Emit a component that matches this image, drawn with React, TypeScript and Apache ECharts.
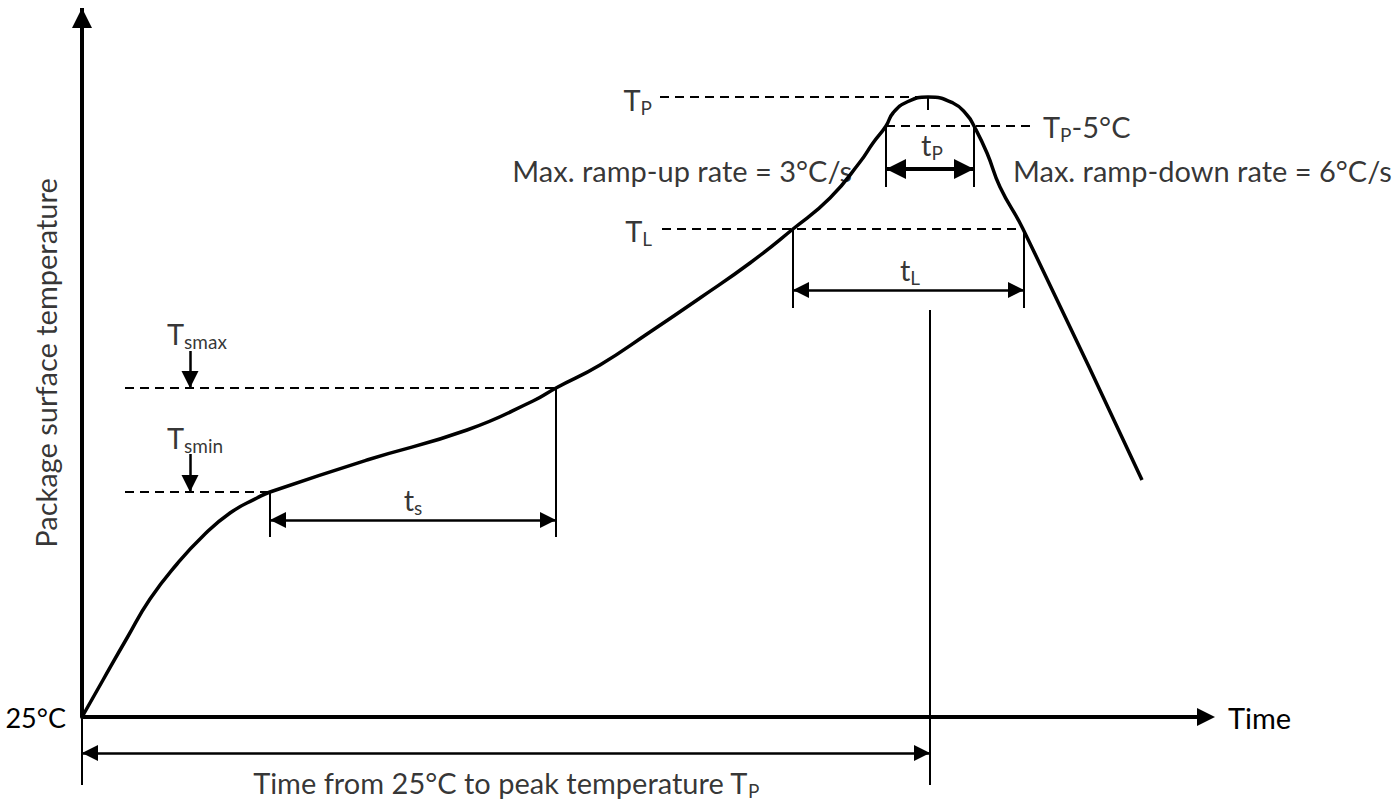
import React, { useEffect, useRef } from 'react';
import * as echarts from 'echarts';

const FONT = 'Lato';
const TEXT_SIZE = 29;
const SUB_SIZE = 19;

// Reflow profile (time units from 25°C start, temperature units above 25°C)
const profileTime = [0, 21, 45, 68, 95, 121, 148, 175, 188, 285, 385, 451, 474, 518, 568, 618, 668, 711, 748, 778, 791, 804, 811, 825, 846, 871, 885, 892, 905, 918, 941, 1060];
const profileTemp = [0, 37, 79, 118, 153, 181, 204, 219, 225, 257, 287, 316, 329, 352, 385, 419, 454, 488, 519, 555, 574, 591, 604, 615, 620, 614, 602, 591, 564, 530, 488, 237];

// Annotation segments [x1, y1, x2, y2]
const dashedSegments = [
  [578, 620, 846, 620], // T_P
  [804, 591, 953, 591], // T_P - 5°C
  [580, 488, 942, 488], // T_L
  [43, 329, 474, 329], // T_smax
  [43, 225, 188, 225], // T_smin
];
const thinSegments = [
  [846, 620, 846, 607], // peak tick
  [804, 591, 804, 530],
  [892, 591, 892, 530],
  [711, 488, 711, 409],
  [942, 488, 942, 409],
  [848, 407, 848, -68],
  [0, 0, 0, -68],
  [188, 225, 188, 180],
  [474, 329, 474, 180],
];
const doubleArrowSegments = [
  [188, 197, 474, 197], // t_s
  [711, 427, 942, 427], // t_L
  [0, -36, 848, -36], // time to peak
];
const peakArrowSegments = [[804, 548, 892, 548]]; // t_P
const downArrowSegments = [
  [108, 366, 108, 329], // T_smax
  [108, 263, 108, 225], // T_smin
];
const yAxisSegment = [[0, 0, 0, 709]];

// Text labels
const labelTexts = [
  '{T|T}{s|P}',
  '{T|T}{s|P}{T|-5°C}',
  '{T|Max. ramp-up rate = 3°C/s}',
  '{T|Max. ramp-down rate = 6°C/s}',
  '{T|T}{s|L}',
  '{T|t}{s|P}',
  '{T|t}{s|L}',
  '{T|T}{s|smax}',
  '{T|T}{s|smin}',
  '{T|t}{s|s}',
  '{T|Time from 25°C to peak temperature T}{s|P}',
  '{T|Package surface temperature}',
];
const labelX = [570, 961, 770, 931, 570, 850, 828, 85, 85, 331, 424, -37];
const labelY = [618, 591, 547, 547, 487, 573, 448, 384, 280, 218, -65, 354];
const labelAlign = ['right', 'left', 'right', 'left', 'right', 'center', 'center', 'left', 'left', 'center', 'center', 'center'];
const labelRotate = [0, 0, 0, 0, 0, 0, 0, 0, 0, 0, 0, 90];

const toML = (segs: number[][]) =>
  segs.map(([x1, y1, x2, y2]) => [{ coord: [x1, y1] }, { coord: [x2, y2] }]);

const markSeries = (
  name: string,
  segs: number[][],
  lineStyle: any,
  symbol: string[],
  symbolSize: number
) => ({
  type: 'line',
  name,
  data: [],
  silent: true,
  animation: false,
  markLine: {
    silent: true,
    animation: false,
    symbol,
    symbolSize,
    symbolOffset: [
      [0, symbolSize / 2],
      [0, symbolSize / 2],
    ],
    label: { show: false },
    emphasis: { disabled: true },
    lineStyle: { color: '#000', ...lineStyle },
    data: toML(segs),
  },
});

const rich = {
  T: { fontSize: TEXT_SIZE, fontFamily: FONT, color: '#000', lineHeight: 36 },
  s: { fontSize: SUB_SIZE, fontFamily: FONT, color: '#000', lineHeight: 19, verticalAlign: 'bottom' },
};

export default function App() {
  const ref = useRef<HTMLDivElement>(null);
  useEffect(() => {
    const chart = echarts.init(ref.current!, undefined, { renderer: 'svg' });
    const option: any = {
      animation: false,
      backgroundColor: '#fff',
      grid: { left: 82, right: 194, top: 8, bottom: 0 },
      xAxis: {
        type: 'value',
        min: 0,
        max: 1124,
        axisLine: {
          show: true,
          onZero: true,
          symbol: ['none', 'triangle'],
          symbolSize: [18, 18],
          lineStyle: { color: '#000', width: 4 },
        },
        axisTick: { show: false },
        axisLabel: { show: false },
        splitLine: { show: false },
        name: 'Time',
        nameLocation: 'end',
        nameGap: 22,
        nameTextStyle: { fontSize: TEXT_SIZE, fontFamily: FONT, color: '#000', align: 'left', verticalAlign: 'middle' },
      },
      yAxis: {
        type: 'value',
        min: -91,
        max: 709,
        interval: 91,
        axisLine: { show: false },
        axisTick: { show: false },
        splitLine: { show: false },
        axisLabel: {
          show: true,
          margin: 16,
          fontSize: 27,
          fontFamily: FONT,
          color: '#000',
          formatter: (v: number) => (v === 0 ? '25°C' : ''),
        },
      },
      series: [
        {
          type: 'line',
          name: 'profile',
          data: profileTime.map((t, i) => [t, profileTemp[i]]),
          showSymbol: false,
          symbol: 'none',
          smooth: 0.5,
          silent: true,
          lineStyle: { color: '#000', width: 3.5 },
          z: 5,
        },
        markSeries('dashed', dashedSegments, { width: 2, type: [9, 6] }, ['none', 'none'], 0),
        markSeries('thin', thinSegments, { width: 2, type: 'solid' }, ['none', 'none'], 0),
        markSeries('double', doubleArrowSegments, { width: 2.5, type: 'solid' }, ['triangle', 'triangle'], 16),
        markSeries('peak', peakArrowSegments, { width: 4, type: 'solid' }, ['triangle', 'triangle'], 20),
        markSeries('down', downArrowSegments, { width: 2.5, type: 'solid' }, ['none', 'triangle'], 17),
        markSeries('yaxis', yAxisSegment, { width: 4, type: 'solid' }, ['none', 'triangle'], 20),
        {
          type: 'scatter',
          name: 'labels',
          clip: false,
          silent: true,
          symbolSize: 1,
          itemStyle: { color: 'rgba(0,0,0,0)' },
          label: {
            show: true,
            position: 'inside',
            verticalAlign: 'middle',
            color: '#000',
            fontFamily: FONT,
            fontSize: TEXT_SIZE,
            rich,
          },
          data: labelTexts.map((txt, i) => ({
            value: [labelX[i], labelY[i]],
            label: { formatter: txt, align: labelAlign[i], rotate: labelRotate[i] },
          })),
          z: 10,
        },
      ],
    };
    chart.setOption(option);
    return () => chart.dispose();
  }, []);
  return (
    <div
      ref={ref}
      style={{ position: 'fixed', left: 0, top: 0, width: 1400, height: 808, background: '#fff' }}
    />
  );
}
